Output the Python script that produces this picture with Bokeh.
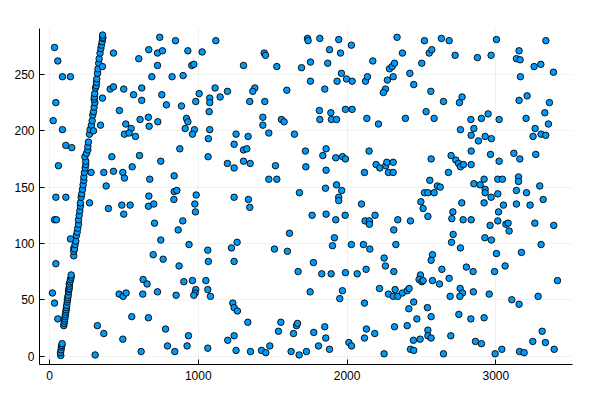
from bokeh.plotting import figure
from bokeh.models import Range1d, FixedTicker
from bokeh.embed import file_html
from bokeh.resources import INLINE

# dense diagonal band of points
band_x = [76, 74, 78, 80, 83, 85,
          96, 98, 101, 103, 105, 107, 110, 112, 114, 116, 119, 121, 123, 126, 128, 130, 132, 134,
          133, 138, 141, 146, 146,
          163, 163, 164,
          168, 172, 177, 181, 186, 190, 195, 195, 200, 204, 208, 208, 213, 217, 222, 226, 231, 231,
          235, 240, 244, 244, 238, 249, 258, 258, 262,
          269, 273, 282, 287, 291, 296, 300, 305, 300, 302, 304, 309, 314, 316, 318, 323, 326, 331,
          334, 340, 345, 349, 354, 358, 358, 357]
band_y = [0.5, 3, 5.5, 8, 9.5, 11,
          27, 29, 31, 33, 35, 37, 39, 41, 43, 45, 48, 50, 52, 54, 57, 59, 60, 62,
          64, 66, 68, 70, 72,
          89, 93, 96,
          95, 99, 102, 107, 110, 113.5, 117, 121, 125, 129, 133, 136, 141, 144, 148, 152, 156, 159,
          163, 167, 170, 173, 177, 180, 183, 186, 190,
          197, 201, 205, 209, 214, 217, 221, 225, 228, 230, 233, 238, 240, 243, 246, 251, 255, 260,
          264, 269, 273, 276, 279, 282, 283, 285]

# scattered points
scat_x = [34, 56, 87, 141, 43, 25, 87, 430, 356, 356, 408, 430, 499, 470, 343, 296, 513, 549, 504, 535,
          578, 600, 667, 726, 759, 741, 847, 726, 688, 565, 620, 620, 609, 665, 670, 728, 755, 786, 824, 898,
          930, 1026, 956, 970, 887, 983, 1006, 1077, 1077, 1073, 921, 930, 912, 974, 961, 1077, 1068, 1118, 1113,
          1147, 1196, 1304, 1443, 1452, 1528, 1380, 1366, 1346, 1447, 1595, 1434, 1434, 1559, 1577, 1474, 1646,
          1254, 1335, 1734, 1738, 1817, 1944, 2029, 1882, 1956, 1694, 1754, 1870, 1754, 1850, 1962, 1933, 1996,
          2034, 2124, 2137, 2173, 2285, 2303, 2271, 2258, 2244, 1814, 1817, 1891, 1895, 1929, 1989, 2034, 2133, 2211,
          2336, 2372, 2319, 2310, 2422, 2448, 2502, 2520, 2552, 2569, 2634, 2686, 2726, 2876, 2968, 3004, 3336,
          3156, 3138, 3163, 3257, 3302, 3387, 3165, 3210, 3156, 3360, 3329, 3353, 3264, 3304, 3335, 3250, 3203,
          2563, 2648, 2773, 2755, 2531, 2585, 2392, 2832, 2903, 2948, 3022, 2762, 2852, 2834, 2928, 2970,
          110, 150, 60, 43, 110, 34, 47, 141, 269, 280, 365, 419, 430, 381, 493, 504, 556, 605, 486, 542, 396, 499,
          748, 674, 668, 665, 701, 706, 748, 697, 876, 838, 838, 856, 836, 896, 865, 938, 986, 977, 981, 1066, 1064,
          1241, 1304, 1326, 1196, 1241, 1304, 1349, 1519, 1474, 1528, 1241, 1337, 1346, 1680, 1720, 1723, 1837,
          1859, 1924, 1969, 1989, 2148, 1859, 2117, 2195, 2220, 2260, 2267, 2278, 1855, 1929, 1964, 1944, 1944,
          2097, 1765, 1859, 1924, 1987, 2121, 2150, 2150, 2188, 1613, 1915, 1902, 2029, 2110, 2153, 1223, 1261,
          1512, 1599,
          2883, 2310, 2310, 2565, 2699, 2731, 2749, 2762, 2782, 2834, 2834, 2964, 3022, 3121, 3161, 3268, 2681,
          2556, 2607, 2626, 2520, 2543, 2585, 2496, 2511, 2543, 2771, 2711, 2704, 2780, 2834, 2341, 2426, 2314,
          2328, 2852, 2894, 2921, 2928, 2928, 2921, 2968, 3013, 3044, 3013, 3051, 3018, 3013, 2961, 3067, 3082,
          3089, 3152, 3152, 3138, 3206, 3138, 3230, 3295, 3318, 3262, 3389, 2713, 2702, 2762, 2926, 2970, 3004,
          3172, 3304, 2574,
          43, 20, 34, 56, 764, 871, 1068, 629, 656, 903, 961, 1051, 983, 979, 970, 1064, 1082, 468, 495, 515, 627,
          726, 851, 553, 665, 322, 365, 493, 780, 934, 793, 925, 616, 842, 1064, 307,
          1241, 1774, 1671, 1830, 1893, 1989, 2068, 2128, 2249, 2258, 1752, 1969, 1951, 2117, 2218, 2278, 1232,
          1241, 1263, 1333, 1555, 1539, 1660, 1667, 1640, 1776, 1850, 1857, 1198, 1241, 1254, 1351, 1425, 1454,
          1481, 1624, 1678, 1727, 1808, 1882, 2012, 2030, 2117, 2130, 2186, 2249,
          2565, 2637, 2802, 2847, 2991, 3062, 2314, 2493, 2484, 2502, 2511, 2574, 2621, 2686, 2760, 2776, 2849,
          2758, 2693, 2955, 2323, 2310, 2341, 2372, 2404, 2417, 2448, 2415, 2540, 2565, 2469, 2404, 2319, 2751,
          2832, 2921, 2543, 2543, 2565, 2697, 2446, 2491, 2426, 2448, 2648, 2863, 2903, 2995, 3040, 3107, 3156,
          3284, 3414, 3311, 3248, 3333, 3392, 3159, 3190]
scat_y = [274, 262, 248, 248, 225, 209, 201, 269, 257, 229, 237, 239, 237, 218, 205, 200, 206, 202, 197, 198,
          195, 264, 272, 269, 271, 283, 280, 258, 248, 232, 238, 227, 210, 212, 204, 208, 232, 223, 248, 249,
          271, 270, 258, 259, 222, 226, 233, 229, 225, 217, 211, 208, 202, 201, 197, 201, 193, 280, 238,
          230, 235, 258, 269, 267, 257, 238, 235, 226, 226, 236, 212, 205, 210, 208, 198, 197,
          197, 195, 282, 280, 282, 281, 276, 272, 269, 256, 261, 260, 244, 237, 251, 244, 246,
          244, 244, 248, 262, 255, 257, 245, 237, 234, 218, 210, 216, 210, 210, 219, 219, 211, 206,
          283, 269, 260, 248, 251, 241, 260, 280, 269, 272, 282, 280, 267, 265, 267, 281, 280,
          271, 264, 263, 257, 259, 252, 248, 231, 227, 225, 216, 206, 202, 197, 196, 195, 211,
          235, 226, 230, 225, 217, 211, 211, 210, 211, 215, 210, 201, 202, 196, 195, 193,
          187, 185, 169, 141, 141, 121, 121, 104, 136, 163, 163, 177, 164, 151, 163, 158, 168, 178, 134, 134, 131, 126,
          173, 157, 142, 133, 135, 118, 103, 90, 184, 160, 146, 147, 139, 120, 112, 99, 143, 135, 128, 177, 94,
          188, 183, 184, 171, 167, 173, 171, 169, 157, 157, 141, 139, 132, 145, 182, 168, 178,
          184, 176, 177, 175, 182, 165, 163, 170, 167, 169, 172, 163, 149, 152, 147, 141, 138,
          135, 125, 126, 121, 125, 120, 120, 117, 125, 109, 105, 98, 99, 99, 95, 96, 101,
          95, 93,
          191, 172, 163, 175, 178, 174, 171, 168, 170, 170, 182, 179, 173, 180, 175, 179, 163,
          156, 151, 150, 145, 145, 145, 137, 131, 124, 136, 128, 122, 121, 121, 121, 120, 112,
          99, 153, 152, 157, 148, 145, 136, 141, 157, 157, 144, 134, 128, 120, 116, 117, 118,
          111, 159, 155, 147, 145, 135, 134, 151, 139, 118, 116, 108, 101, 96, 105, 103, 91,
          92, 99, 90,
          82, 56, 47, 33, 86, 80, 84, 68, 64, 66, 67, 67, 59, 56, 54, 59, 53, 55, 53, 56, 55,
          57, 54, 35, 34, 27, 20, 15, 24, 18, 9, 9, 4, 4, 7, 1,
          84, 83, 75, 73, 73, 74, 73, 77, 87, 80, 57, 58, 51, 47, 60, 55, 47,
          43, 40, 30, 30, 22, 27, 29, 20, 21, 26, 16, 14, 18, 5, 4, 5, 3,
          9, 4, 1, 4, 9, 6, 12, 9, 16, 24, 20, 2,
          85, 77, 79, 75, 75, 80, 75, 72, 68, 66, 67, 67, 64, 69, 60, 56, 57,
          53, 53, 55, 59, 53, 53, 56, 58, 60, 48, 42, 43, 35, 33, 27, 26, 37,
          33, 34, 23, 18, 16, 18, 14, 15, 6, 5, 2, 13, 11, 2, 6, 50, 46,
          53, 67, 22, 13, 12, 6, 4, 3]

x_ticks = [0, 1000, 2000, 3000]
y_ticks = [0, 50, 100, 150, 200, 250]

xs = band_x + scat_x
ys = band_y + scat_y

p = figure(width=600, height=400, output_backend="svg", toolbar_location=None,
           x_range=Range1d(-67, 3515), y_range=Range1d(-7.5, 290.8),
           min_border_left=39, min_border_right=28, min_border_top=28, min_border_bottom=36)
p.outline_line_color = None
p.background_fill_color = "white"

p.scatter(xs, ys, size=6.5, marker="circle", fill_color="#009AFA",
          line_color="black", line_width=0.9)

p.xaxis.ticker = FixedTicker(ticks=x_ticks)
p.yaxis.ticker = FixedTicker(ticks=y_ticks)
for ax in (p.xaxis, p.yaxis):
    ax.axis_line_color = "black"
    ax.axis_line_width = 1
    ax.major_tick_in = 5
    ax.major_tick_out = 0
    ax.minor_tick_line_color = None
    ax.major_tick_line_color = "black"
    ax.major_label_text_font = "Liberation Sans"
    ax.major_label_text_font_size = "12px"
    ax.major_label_text_color = "black"
p.xaxis.major_label_standoff = 6
p.yaxis.major_label_standoff = 5

p.grid.grid_line_color = "black"
p.grid.grid_line_alpha = 0.1
p.grid.grid_line_width = 0.5

open("out.html", "w").write(file_html(p, INLINE))
